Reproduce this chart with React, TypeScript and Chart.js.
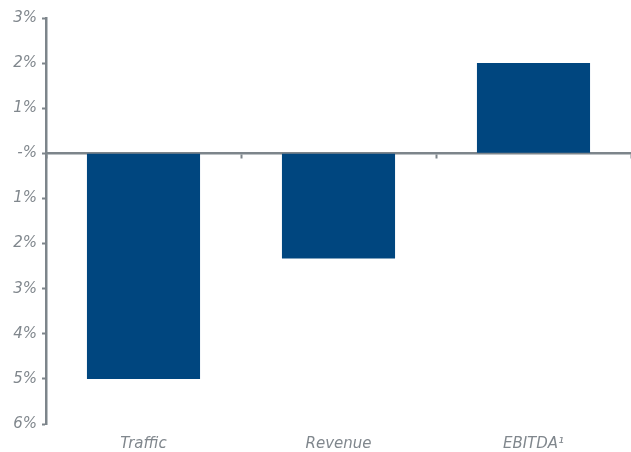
import React, { useEffect, useRef } from "react";
import { Chart, registerables } from "chart.js";

Chart.register(...registerables);

const categories = ["Traffic", "Revenue", "EBITDA\u00B9"];
const values = [-5, -2.33, 2];
const yMin = -6;
const yMax = 3;

const GRAY = "#7d858b";
const TEXT = "#80878d";
const BAR = "#00467f";
const FONT = "'DejaVu Sans', Verdana, sans-serif";

export default function App() {
  const ref = useRef<HTMLCanvasElement>(null);
  useEffect(() => {
    document.body.style.margin = "0";
    const chart = new Chart(ref.current!, {
      type: "bar",
      data: {
        labels: categories,
        datasets: [
          {
            data: values,
            backgroundColor: BAR,
            barPercentage: 0.58,
            categoryPercentage: 1,
            xAxisID: "x",
          },
        ],
      },
      options: {
        animation: false,
        responsive: true,
        maintainAspectRatio: false,
        layout: { padding: { top: 18, right: 0, bottom: 0, left: 9 } },
        plugins: { legend: { display: false }, tooltip: { enabled: false } },
        scales: {
          x: {
            position: "bottom",
            offset: true,
            grid: { display: false, drawTicks: false, tickLength: 0 },
            border: { display: false },
            ticks: {
              color: TEXT,
              padding: 13,
              maxRotation: 0,
              minRotation: 0,
              font: { family: FONT, size: 15, style: "italic", lineHeight: 1 },
            },
            afterFit: (s: any) => {
              s.height = 28;
            },
          },
          x2: {
            type: "category",
            labels: categories,
            position: { y: 0 },
            offset: true,
            grid: {
              offset: true,
              drawOnChartArea: false,
              drawTicks: true,
              tickLength: 4,
              tickWidth: 2,
              tickColor: GRAY,
            },
            border: { display: true, color: GRAY, width: 2.5 },
            ticks: { display: false },
          },
          y: {
            min: yMin,
            max: yMax,
            ticks: {
              stepSize: 1,
              color: TEXT,
              padding: 5,
              font: { family: FONT, size: 15, style: "italic" },
              callback: (v: any) => (v === 0 ? "-%" : Math.abs(v) + "%"),
            },
            grid: {
              drawOnChartArea: false,
              drawTicks: true,
              tickLength: 4,
              tickWidth: 2,
              tickColor: GRAY,
            },
            border: { display: true, color: GRAY, width: 2.5 },
            afterFit: (s: any) => {
              s.width = 37;
            },
          },
        },
      },
    });
    return () => chart.destroy();
  }, []);
  return (
    <div style={{ position: "fixed", left: 0, top: 0, width: 631, height: 452 }}>
      <canvas ref={ref} />
    </div>
  );
}
